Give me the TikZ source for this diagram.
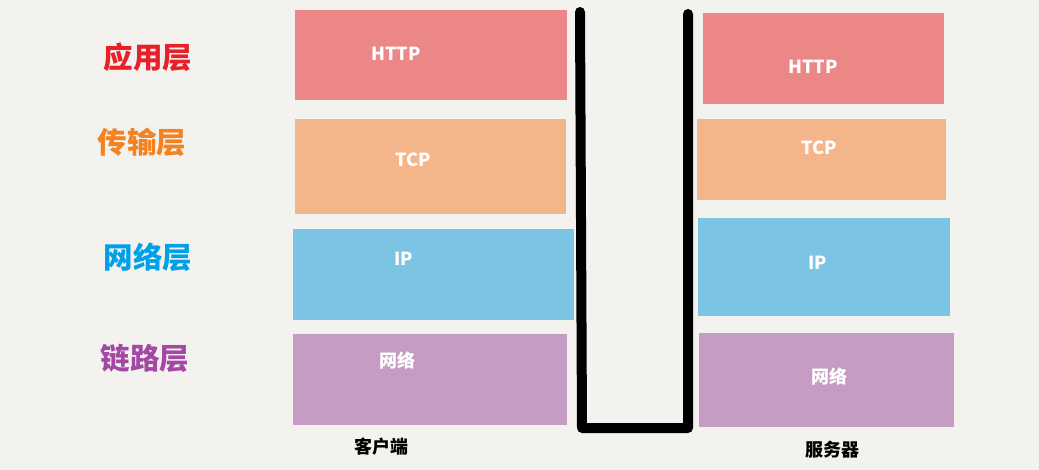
\documentclass[tikz,border=0pt]{standalone}
\usepackage{fontspec}
\newfontfamily\cjk{Noto Sans CJK SC}
\usetikzlibrary{positioning}
\definecolor{bgcol}{HTML}{F3F2EF}
\definecolor{appcol}{HTML}{EC8787}
\definecolor{tcpcol}{HTML}{F5B58A}
\definecolor{ipcol}{HTML}{7BC4E4}
\definecolor{linkcol}{HTML}{C69CC4}
\definecolor{appname}{HTML}{E8202A}
\definecolor{tcpname}{HTML}{F58220}
\definecolor{ipname}{HTML}{00A0E9}
\definecolor{linkname}{HTML}{A349A4}
\begin{document}
\begin{tikzpicture}[
  x=1pt, y=-1pt,
  layer/.style={draw=none, inner sep=0pt, anchor=north west},
  proto/.style={text=white, font=\cjk\bfseries\fontsize{18}{20}\selectfont, inner sep=0pt},
  lname/.style={font=\cjk\bfseries\fontsize{29.5}{31}\selectfont, inner sep=0pt},
  side/.style={text=black, font=\cjk\bfseries\fontsize{18}{20}\selectfont, inner sep=0pt},
  wire/.style={line width=10pt, black, line cap=round, line join=round}
]
\fill[bgcol] (0,0) rectangle (1039,470);
\useasboundingbox (0,0) rectangle (1039,470);

% client stack
\node[layer, fill=appcol, minimum width=272pt, minimum height=90pt] (capp) at (295,10) {};
\node[layer, fill=tcpcol, minimum width=271pt, minimum height=95pt] (ctcp) at (295,119) {};
\node[layer, fill=ipcol, minimum width=281pt, minimum height=91pt] (cip) at (293,229) {};
\node[layer, fill=linkcol, minimum width=274pt, minimum height=91pt] (clink) at (293,334) {};

% server stack
\node[layer, fill=appcol, minimum width=241pt, minimum height=91pt] (sapp) at (703,13) {};
\node[layer, fill=tcpcol, minimum width=249pt, minimum height=81pt] (stcp) at (697,119) {};
\node[layer, fill=ipcol, minimum width=252pt, minimum height=98pt] (sip) at (698,218) {};
\node[layer, fill=linkcol, minimum width=255pt, minimum height=94pt] (slink) at (699,333) {};

% protocol texts
\node[proto] (capptxt) at (396,54) {HTTP};
\node[proto] (ctcptxt) at (413,160) {TCP};
\node[proto] (ciptxt) at (404,259) {IP};
\node[proto] (clinktxt) at (397,361) {网络};
\node[proto] (sapptxt) at (813,67) {HTTP};
\node[proto] (stcptxt) at (819,148) {TCP};
\node[proto] (siptxt) at (818,263) {IP};
\node[proto] (slinktxt) at (829,377) {网络};

% layer names
\node[lname, text=appname] (appname) at (148,57) {应用层};
\node[lname, text=tcpname] (tcpname) at (142,142) {传输层};
\node[lname, text=ipname] (ipname) at (148,257) {网络层};
\node[lname, text=linkname] (linkname) at (145,358) {链路层};

% ends
\node[side] (client) at (381,447) {客户端};
\node[side] (server) at (832,450) {服务器};

% physical wire
\coordinate (wa) at (580,12);
\coordinate (wb) at (582,428);
\coordinate (wc) at (688,428);
\coordinate (wd) at (688,14);
\draw[wire] (wa) -- (wb) -- (wc) -- (wd);

\end{tikzpicture}
\end{document}
